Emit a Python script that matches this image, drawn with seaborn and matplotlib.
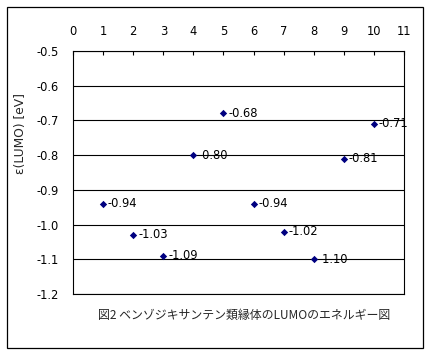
import matplotlib
matplotlib.use("Agg")
import matplotlib.pyplot as plt
import seaborn as sns
import pandas as pd
from matplotlib.patches import Rectangle

# Data
compound = [1, 2, 3, 4, 5, 6, 7, 8, 9, 10]
lumo = [-0.94, -1.03, -1.09, -0.80, -0.68, -0.94, -1.02, -1.10, -0.81, -0.71]
labels = ["-0.94", "-1.03", "-1.09", "-0.80", "-0.68", "-0.94", "-1.02", "-1.10", "-0.81", "-0.71"]
x_ticks = list(range(0, 12))
y_ticks = [-1.2, -1.1, -1.0, -0.9, -0.8, -0.7, -0.6, -0.5]
y_ticklabels = ["-1.2", "-1.1", "-1.0", "-0.9", "-0.8", "-0.7", "-0.6", "-0.5"]
title = "図2 ベンゾジキサンテン類縁体のLUMOのエネルギー図"
ylabel = "ε(LUMO) [eV]"

sns.set_theme(style="white")
plt.rcParams['font.family'] = ['DejaVu Sans', 'Noto Sans CJK JP']

df = pd.DataFrame({"x": compound, "y": lumo})

fig = plt.figure(figsize=(4.32, 3.56), dpi=100)
fig.patch.set_facecolor("white")
fig.add_artist(Rectangle((7 / 432, 8 / 356), 416 / 432, 341 / 356,
                         transform=fig.transFigure, fill=False,
                         edgecolor="black", linewidth=0.9))

ax = fig.add_axes([73 / 432, 62 / 356, 331 / 432, 243 / 356])
sns.scatterplot(data=df, x="x", y="y", ax=ax, marker="D", s=14,
                color="#000080", edgecolor="#000080", linewidth=0, zorder=3)

for xi, yi, lab in zip(compound, lumo, labels):
    ax.annotate(lab, (xi, yi), xytext=(3.5, 0), textcoords="offset points",
                ha="left", va="center", fontsize=8.3, color="black", zorder=4)

ax.set_xlim(0, 11)
ax.set_ylim(-1.2, -0.5)
ax.set_xticks(x_ticks)
ax.set_xticklabels([str(t) for t in x_ticks])
ax.set_yticks(y_ticks)
ax.set_yticklabels(y_ticklabels)
ax.xaxis.tick_top()
ax.tick_params(axis="x", direction="in", length=3, width=0.8, pad=9.5,
               labelsize=8.3, top=True, bottom=False, colors="black")
ax.tick_params(axis="y", length=0, pad=10.5, labelsize=8.3, colors="black")
ax.grid(axis="y", color="black", linewidth=0.8)
ax.grid(axis="x", visible=False)
for sp in ax.spines.values():
    sp.set_visible(True)
    sp.set_color("black")
    sp.set_linewidth(0.8)

ax.set_xlabel("")
ax.set_ylabel("")
fig.text(21 / 432, (356 - 133) / 356, ylabel, rotation=90, ha="center",
         va="center", fontsize=8.8)

fig.text(244 / 432, 41 / 356, title, ha="center", va="center", fontsize=8.6,
         family=['Noto Sans CJK JP', 'DejaVu Sans'])

fig.savefig("out.png", dpi=100)
